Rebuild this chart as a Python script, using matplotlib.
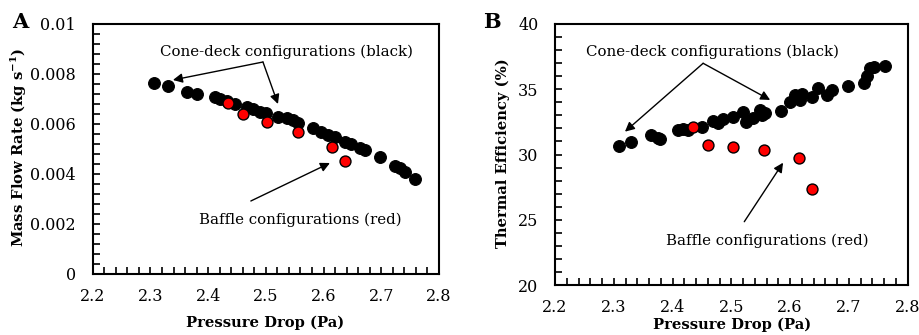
import matplotlib
matplotlib.use("Agg")
import matplotlib.pyplot as plt
from matplotlib.ticker import MultipleLocator, FuncFormatter

# ---- data ----
pd_black_a = [2.307, 2.331, 2.364, 2.380, 2.412, 2.420, 2.432, 2.446, 2.467, 2.478,
              2.490, 2.501, 2.521, 2.536, 2.547, 2.556, 2.582, 2.596, 2.608, 2.620,
              2.637, 2.648, 2.663, 2.671, 2.697, 2.723, 2.732, 2.741, 2.758]
mfr_black = [0.00765, 0.00752, 0.00729, 0.00719, 0.00707, 0.00699, 0.00692, 0.00680, 0.00667, 0.00659,
             0.00649, 0.00643, 0.00629, 0.00623, 0.00616, 0.00605, 0.00583, 0.00569, 0.00556, 0.00547,
             0.00529, 0.00519, 0.00505, 0.00496, 0.00467, 0.00432, 0.00423, 0.00409, 0.00379]

pd_red = [2.434, 2.461, 2.502, 2.556, 2.615, 2.638]
mfr_red = [0.00685, 0.00640, 0.00607, 0.00567, 0.00509, 0.00452]
eff_red = [32.13, 30.73, 30.60, 30.34, 29.71, 27.38]

pd_black_b = [2.309, 2.330, 2.364, 2.376, 2.379, 2.410, 2.418, 2.427, 2.450, 2.469,
              2.478, 2.486, 2.503, 2.520, 2.525, 2.537, 2.549, 2.552, 2.557, 2.584,
              2.600, 2.608, 2.617, 2.620, 2.637, 2.648, 2.662, 2.671, 2.699, 2.725,
              2.730, 2.736, 2.742, 2.762]
eff_black = [30.68, 30.98, 31.49, 31.24, 31.20, 31.88, 31.93, 31.88, 32.13, 32.59,
             32.39, 32.69, 32.90, 33.28, 32.52, 32.77, 33.41, 33.03, 33.15, 33.36,
             34.05, 34.56, 34.18, 34.63, 34.43, 35.07, 34.56, 34.94, 35.25, 35.45,
             36.01, 36.60, 36.73, 36.78]

xticks = [2.2, 2.3, 2.4, 2.5, 2.6, 2.7, 2.8]
yticks_a = [0, 0.002, 0.004, 0.006, 0.008, 0.01]
yticks_b = [20, 25, 30, 35, 40]

FONT = "DejaVu Serif"
plt.rcParams['font.family'] = FONT
plt.rcParams['mathtext.fontset'] = 'dejavuserif'

fig = plt.figure(figsize=(9.2, 3.35), dpi=100)
W, H = 920, 335

def add_ax(l, t, r, b):
    return fig.add_axes([l / W, 1 - b / H, (r - l) / W, (b - t) / H])

axA = add_ax(92.7, 24, 439, 274)
axB = add_ax(555, 24, 907.7, 285)

def style(ax):
    for s in ax.spines.values():
        s.set_linewidth(1.5)
        s.set_color('black')
    ax.tick_params(which='both', direction='in', top=False, right=False,
                   labelsize=11.5, width=1.2, colors='black')
    ax.tick_params(axis='x', which='both', pad=10)
    ax.tick_params(axis='y', which='both', pad=12)
    ax.tick_params(which='major', length=5)
    ax.tick_params(which='minor', length=5)
    ax.xaxis.set_minor_locator(MultipleLocator(0.02))
    ax.set_xlim(2.2, 2.8)
    ax.set_xticks(xticks)
    ax.xaxis.set_major_formatter(FuncFormatter(lambda v, p: f"{v:.1f}"))

LFS = 10.6

# ---- Panel A ----
style(axA)
axA.set_ylim(0, 0.01)
axA.set_yticks(yticks_a)
axA.yaxis.set_minor_locator(MultipleLocator(0.0004))
axA.yaxis.set_major_formatter(FuncFormatter(lambda v, p: "0" if v == 0 else (f"{v:.2f}" if abs(v - 0.01) < 1e-9 else f"{v:.3f}")))
axA.scatter(pd_black_a, mfr_black, s=72, c='black', edgecolors='black', linewidths=0.8, zorder=3)
axA.scatter(pd_red, mfr_red, s=62, c='#ff0000', edgecolors='black', linewidths=1.0, zorder=4)
axA.set_xlabel("Pressure Drop (Pa)", fontweight='bold', fontsize=LFS, va='center')
axA.xaxis.set_label_coords((265 - 92.7) / (439 - 92.7), (274 - 323) / 250)
axA.set_ylabel("Mass Flow Rate (kg s$^{\\mathbf{-1}}$)", fontweight='bold', fontsize=LFS, va='center')
axA.yaxis.set_label_coords((19 - 92.7) / (439 - 92.7), (274 - 147) / 250)

arr = dict(arrowstyle='-|>', color='black', lw=1.0, mutation_scale=14, shrinkA=0, shrinkB=0)
FS = 10.8
axA.text(2.535, 0.00888, "Cone-deck configurations (black)", ha='center', va='center', fontsize=FS)
axA.annotate("", xy=(2.339, 0.00776), xytext=(2.495, 0.00848), arrowprops=arr)
axA.annotate("", xy=(2.521, 0.00680), xytext=(2.495, 0.00848), arrowprops=arr)
axA.text(2.559, 0.00216, "Baffle configurations (red)", ha='center', va='center', fontsize=FS)
axA.annotate("", xy=(2.611, 0.00444), xytext=(2.474, 0.00292), arrowprops=arr)

# ---- Panel B ----
style(axB)
axB.set_ylim(20, 40)
axB.set_yticks(yticks_b)
axB.yaxis.set_minor_locator(MultipleLocator(1))
axB.scatter(pd_black_b, eff_black, s=72, c='black', edgecolors='black', linewidths=0.8, zorder=3)
axB.scatter(pd_red, eff_red, s=62, c='#ff0000', edgecolors='black', linewidths=1.0, zorder=4)
axB.set_xlabel("Pressure Drop (Pa)", fontweight='bold', fontsize=LFS, va='center')
axB.xaxis.set_label_coords((732 - 555) / (907.7 - 555), (285 - 325) / 261)
axB.set_ylabel("Thermal Efficiency (%)", fontweight='bold', fontsize=LFS, va='center')
axB.yaxis.set_label_coords((503 - 555) / (907.7 - 555), (285 - 153) / 261)

axB.text(2.467, 37.85, "Cone-deck configurations (black)", ha='center', va='center', fontsize=FS)
axB.annotate("", xy=(2.319, 31.75), xytext=(2.452, 36.99), arrowprops=arr)
axB.annotate("", xy=(2.566, 34.18), xytext=(2.452, 36.99), arrowprops=arr)
axB.text(2.561, 23.40, "Baffle configurations (red)", ha='center', va='center', fontsize=FS)
axB.annotate("", xy=(2.588, 29.37), xytext=(2.522, 24.85), arrowprops=arr)

fig.text(20 / W, 1 - 22 / H, "A", fontweight='bold', fontsize=15, ha='center', va='center')
fig.text(492 / W, 1 - 22 / H, "B", fontweight='bold', fontsize=15, ha='center', va='center')

fig.savefig("out.png", dpi=100)
